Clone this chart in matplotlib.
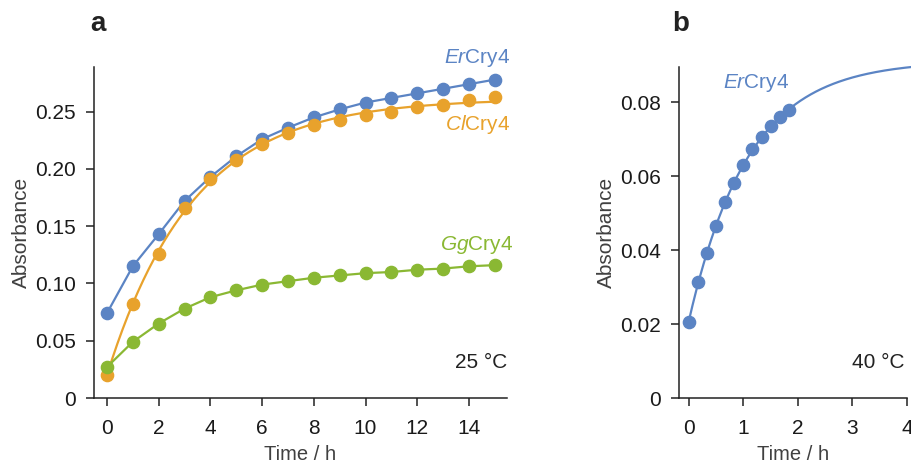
import numpy as np
import matplotlib
matplotlib.use("Agg")
import matplotlib.pyplot as plt

plt.rcParams['font.family'] = ['Liberation Sans', 'DejaVu Sans']
plt.rcParams['mathtext.fontset'] = 'custom'
plt.rcParams['mathtext.rm'] = 'Liberation Sans'
plt.rcParams['mathtext.it'] = 'Liberation Sans:italic'

# panel a: 25 C, hourly readings
time_a = np.arange(16)
er_a = [0.074, 0.115, 0.143, 0.172, 0.193, 0.211, 0.226, 0.236, 0.245, 0.252,
        0.258, 0.262, 0.266, 0.270, 0.274, 0.278]
cl_a = [0.020, 0.082, 0.126, 0.166, 0.191, 0.208, 0.222, 0.231, 0.238, 0.243,
        0.247, 0.250, 0.254, 0.256, 0.260, 0.263]
gg_a = [0.027, 0.049, 0.065, 0.078, 0.088, 0.094, 0.099, 0.102, 0.105, 0.107,
        0.109, 0.110, 0.112, 0.113, 0.115, 0.116]

# panel b: 40 C, readings every 10 min
time_b = np.arange(12) / 6
er_b = [0.0205, 0.0314, 0.0393, 0.0464, 0.0529, 0.0582, 0.0630, 0.0672,
        0.0705, 0.0735, 0.0760, 0.0778]

BLUE = '#5b84c4'
ORANGE = '#e8a22c'
GREEN = '#8ab833'


def fit_exp(t, y):
    # y = a - b*exp(-k t), grid search on k, linear least squares for a, b
    t = np.asarray(t, float)
    y = np.asarray(y, float)
    best = None
    for k in np.linspace(0.01, 5, 2000):
        A = np.column_stack([np.ones_like(t), -np.exp(-k * t)])
        coef, *_ = np.linalg.lstsq(A, y, rcond=None)
        err = np.sum((A @ coef - y) ** 2)
        if best is None or err < best[0]:
            best = (err, coef[0], coef[1], k)
    _, a, b, k = best
    return lambda x: a - b * np.exp(-k * x)


W, H = 911, 463
fig = plt.figure(figsize=(W / 100, H / 100), dpi=100)
ax1 = fig.add_axes([94 / W, 1 - 398 / H, (507 - 94) / W, (398 - 67) / H])
ax2 = fig.add_axes([679 / W, 1 - 398 / H, (907 - 679) / W, (398 - 67) / H])

ms = 8.8
lw = 1.6

ax1.plot(time_a, er_a, '-o', color=BLUE, lw=lw, ms=ms, clip_on=False, zorder=3)
ax1.plot(time_a, cl_a, 'o', color=ORANGE, ms=ms, clip_on=False, zorder=3)
f_cl = fit_exp(time_a, cl_a)
tt = np.linspace(0, 15, 300)
ax1.plot(tt, f_cl(tt), '-', color=ORANGE, lw=lw, zorder=3)
ax1.plot(time_a, gg_a, '-o', color=GREEN, lw=lw, ms=ms, clip_on=False, zorder=4)

ax1.set_xlim(-0.5, 15.47)
ax1.set_ylim(0, 0.289)
ax1.set_xticks(range(0, 16, 2))
ax1.set_yticks([0, 0.05, 0.10, 0.15, 0.20, 0.25])
ax1.set_yticklabels(['0', '0.05', '0.10', '0.15', '0.20', '0.25'])

f_b = fit_exp(time_b, er_b)
tb = np.linspace(0, 4.1, 300)
ax2.plot(tb, f_b(tb), '-', color=BLUE, lw=lw, clip_on=False, zorder=3)
ax2.plot(time_b, er_b, 'o', color=BLUE, ms=ms, clip_on=False, zorder=3)
ax2.set_xlim(-0.18, 4.0)
ax2.set_ylim(0, 0.0895)
ax2.set_xticks(range(0, 5))
ax2.set_yticks([0, 0.02, 0.04, 0.06, 0.08])
ax2.set_yticklabels(['0', '0.02', '0.04', '0.06', '0.08'])

for ax in (ax1, ax2):
    for s in ('top', 'right'):
        ax.spines[s].set_visible(False)
    for s in ('left', 'bottom'):
        ax.spines[s].set_linewidth(1.1)
        ax.spines[s].set_color('#222222')
    ax.tick_params(direction='out', length=6, width=1.1, color='#222222',
                   labelsize=15, labelcolor='#1a1a1a', pad=7)
    ax.tick_params(axis='x', pad=9)
    ax.set_xlabel('Time / h', fontsize=14.5, color='#404040', labelpad=5)
    ax.set_ylabel('Absorbance', fontsize=15, color='#404040', labelpad=3)

tkw = dict(fontsize=15, ha='right', va='center')
fig.text(510 / W, 1 - 58 / H, r'$\it{Er}$Cry4', color=BLUE, **tkw)
fig.text(510 / W, 1 - 125 / H, r'$\it{Cl}$Cry4', color=ORANGE, **tkw)
fig.text(513 / W, 1 - 245 / H, r'$\it{Gg}$Cry4', color=GREEN, **tkw)
fig.text(507 / W, 1 - 362 / H, '25 °C', color='#222222', **tkw)
fig.text(789 / W, 1 - 83 / H, r'$\it{Er}$Cry4', color=BLUE, **tkw)
fig.text(905 / W, 1 - 362 / H, '40 °C', color='#222222', **tkw)

fig.text(90 / W, 1 - 24 / H, 'a', fontsize=20, fontweight='bold',
         color='#222222', ha='left', va='center')
fig.text(672 / W, 1 - 24 / H, 'b', fontsize=20, fontweight='bold',
         color='#222222', ha='left', va='center')

fig.savefig('out.png', dpi=100)
